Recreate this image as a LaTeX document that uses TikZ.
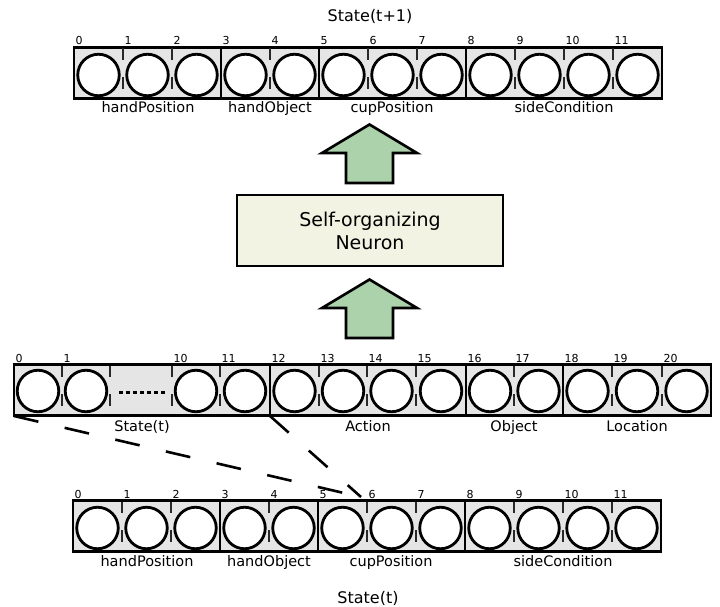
\documentclass[tikz,border=0pt]{standalone}
\usepackage{fontspec}
\setmainfont{DejaVu Sans}
\definecolor{boxgray}{RGB}{230,229,230}
\definecolor{arrowgreen}{RGB}{172,210,172}
\definecolor{neuronfill}{RGB}{243,243,227}
\definecolor{tickgray}{RGB}{40,40,40}
\begin{document}
\begin{tikzpicture}[x=1pt,y=-1pt,
  cellbox/.style={draw=black,line width=2.6pt,fill=boxgray},
  divider/.style={draw=black,line width=2.4pt},
  mytick/.style={draw=tickgray,line width=1.3pt},
  unit/.style={circle,draw=black,line width=2.8pt,fill=white,minimum size=41.5pt,inner sep=0pt},
  idx/.style={font=\fontsize{11}{13}\selectfont,anchor=base west,inner sep=0pt},
  grp/.style={font=\fontsize{14.5}{16}\selectfont,anchor=base,inner sep=0pt},
  ttl/.style={font=\fontsize{16}{18}\selectfont,anchor=base,inner sep=0pt},
  bigarrow/.style={draw=black,line width=2.6pt,fill=arrowgreen,line join=miter},
  neuronbox/.style={draw=black,line width=2.4pt,fill=neuronfill,minimum width=266pt,minimum height=71pt,align=center,font=\fontsize{19}{23}\selectfont},
  dashln/.style={draw=black,line width=2.6pt,dash pattern=on 25pt off 27pt}
]
\useasboundingbox (0,0) rectangle (720,607);

% ---------- top row: State(t+1) ----------
\node[ttl] (toptitle) at (370,22) {State(t+1)};
\draw[cellbox] (74,47.5) rectangle (662,98.5);
\foreach \i in {1,2,4,6,7,9,10,11}{
  \draw[mytick] (74+49*\i,48.5) -- ++(0,11.5);
  \draw[mytick] (74+49*\i,77) -- ++(0,12);
}
\foreach \i in {3,5,8}{ \draw[divider] (74+49*\i,47.5) -- ++(0,51); }
\foreach \i in {0,...,11}{
  \node[unit] (t\i) at (74+49*\i+24.5,75) {};
  \node[idx] (tn\i) at (74+49*\i+1.5,45) {\i};
}
\node[grp] (tg1) at (148,113) {handPosition};
\node[grp] (tg2) at (270,113) {handObject};
\node[grp] (tg3) at (392,113) {cupPosition};
\node[grp] (tg4) at (564,113) {sideCondition};

% ---------- arrows and neuron ----------
\draw[bigarrow] (346,183) -- (346,153) -- (322,153) -- (369.5,124.5) -- (417,153) -- (393,153) -- (393,183) -- cycle;
\node[neuronbox] (neuron) at (370,230.5) {Self-organizing\\Neuron};
\draw[bigarrow] (346,338) -- (346,308) -- (322,308) -- (369.5,279.5) -- (417,308) -- (393,308) -- (393,338) -- cycle;

% ---------- middle row ----------
\draw[cellbox] (14,364.5) rectangle (711,415.5);
\foreach \x in {62,110,172,220,319,367,416,514,612,662}{
  \draw[mytick] (\x,365.5) -- ++(0,11.5);
  \draw[mytick] (\x,394) -- ++(0,12);
}
\foreach \x in {270,466,563}{ \draw[divider] (\x,364.5) -- ++(0,51); }
\foreach \a/\b/\n in {14/62/0,62/110/1,172/220/10,220/270/11,270/319/12,319/367/13,367/416/14,416/466/15,466/514/16,514/563/17,563/612/18,612/662/19,662/711/20}{
  \node[unit] (m\n) at ({(\a+\b)/2},391) {};
  \node[idx] (mn\n) at (\a+1.5,362) {\n};
}
\draw[line width=3pt,dash pattern=on 3.5pt off 3.5pt] (119,392.5) -- (167,392.5);
\node[grp] (mg1) at (142,431) {State(t)};
\node[grp] (mg2) at (368,431) {Action};
\node[grp] (mg3) at (514,431) {Object};
\node[grp] (mg4) at (637,431) {Location};

% ---------- dashed zoom lines ----------
\coordinate (msw) at (14,416);
\coordinate (msplit) at (270,416);
\coordinate (conv) at (361,497);
\draw[dashln] (msw) -- (conv);
\draw[dashln] (msplit) -- (conv);

% ---------- bottom row: State(t) ----------
\draw[cellbox] (73,500.5) rectangle (661,551.5);
\foreach \i in {1,2,4,6,7,9,10,11}{
  \draw[mytick] (73+49*\i,501.5) -- ++(0,11.5);
  \draw[mytick] (73+49*\i,530) -- ++(0,12);
}
\foreach \i in {3,5,8}{ \draw[divider] (73+49*\i,500.5) -- ++(0,51); }
\foreach \i in {0,...,11}{
  \node[unit] (b\i) at (73+49*\i+24.5,528) {};
  \node[idx] (bn\i) at (73+49*\i+1.5,498) {\i};
}
\node[grp] (bg1) at (147,566) {handPosition};
\node[grp] (bg2) at (269,566) {handObject};
\node[grp] (bg3) at (391,566) {cupPosition};
\node[grp] (bg4) at (563,566) {sideCondition};
\node[ttl] (bottitle) at (368,603) {State(t)};
\end{tikzpicture}
\end{document}
